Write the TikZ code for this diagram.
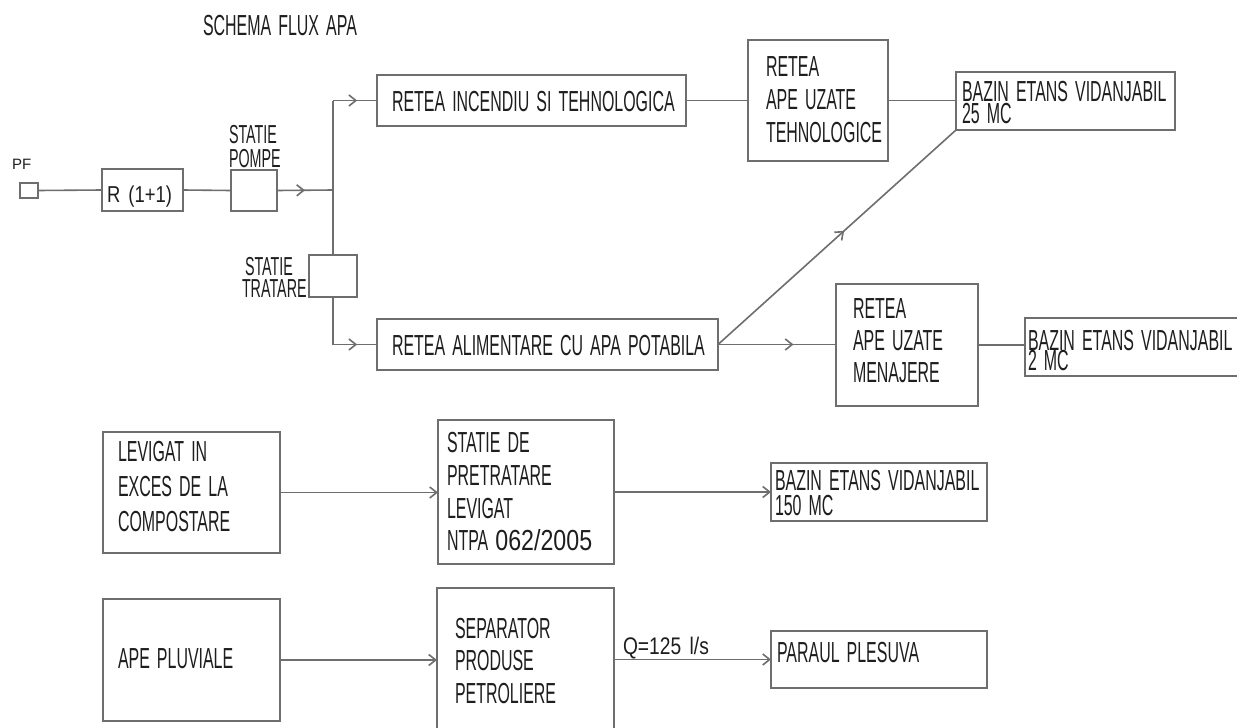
\documentclass[tikz,border=0pt]{standalone}
\usepackage{fontspec}
\usetikzlibrary{arrows.meta,decorations.markings}
\newfontfamily\cad[FakeStretch=0.55,WordSpace=1.6]{Liberation Sans}
\newfontfamily\cadw[FakeStretch=0.8,WordSpace=1.6]{Liberation Sans}
\newfontfamily\plainf{Liberation Sans}
\definecolor{lnc}{HTML}{6E6E6E}
\definecolor{txc}{HTML}{1E1E1E}
\tikzset{
  blk/.style={draw=lnc,line width=1.6pt,rectangle,inner sep=0pt,outer sep=0pt},
  ln/.style={draw=lnc,line width=1.6pt},
  txt/.style={anchor=base west,inner sep=0pt,outer sep=0pt,text=txc,font=\cad\fontsize{29}{29}\selectfont},
  stxt/.style={txt,font=\cad\fontsize{26}{26}\selectfont},
  endarr/.style={-{Straight Barb[length=7pt,width=11pt,line width=1.6pt]}},
  midarr/.style={postaction={decorate},decoration={markings,mark=at position #1 with {\arrow{Straight Barb[length=7pt,width=11pt,line width=1.6pt]}}}}
}
\begin{document}
\begin{tikzpicture}[x=1pt,y=-1pt]
\fill[white] (0,0) rectangle (1237,728);
\useasboundingbox (0,0) rectangle (1237,728);
% title
\node[txt] (title) at (203,35) {SCHEMA FLUX APA};
% boxes
\node[blk,minimum width=18pt,minimum height=15pt] (pf) at (29,190.5) {};
\node[blk,minimum width=81pt,minimum height=42pt] (r) at (142.5,190) {};
\node[blk,minimum width=46pt,minimum height=41pt] (pompe) at (254,190.5) {};
\node[blk,minimum width=48pt,minimum height=42pt] (tratare) at (333,276) {};
\node[blk,minimum width=309pt,minimum height=51pt] (incendiu) at (531.5,100.5) {};
\node[blk,minimum width=140pt,minimum height=121pt] (tehno) at (818,100.5) {};
\node[blk,minimum width=219pt,minimum height=58pt] (bazin25) at (1065.5,101) {};
\node[blk,minimum width=341pt,minimum height=51pt] (alimentare) at (547.5,344.5) {};
\node[blk,minimum width=142pt,minimum height=122pt] (menajere) at (907,345) {};
\node[blk,minimum width=220pt,minimum height=58pt] (bazin2) at (1135,347) {};
\node[blk,minimum width=177pt,minimum height=121pt] (levigat) at (191.5,492.5) {};
\node[blk,minimum width=176pt,minimum height=144pt] (pretratare) at (526,492) {};
\node[blk,minimum width=216pt,minimum height=58pt] (bazin150) at (879,492) {};
\node[blk,minimum width=177pt,minimum height=122pt] (pluviale) at (191.5,660) {};
\node[blk,minimum width=177pt,minimum height=157pt] (separator) at (525.5,666.5) {};
\node[blk,minimum width=216pt,minimum height=57pt] (paraul) at (879,659.5) {};
% junction coordinates
\coordinate (jt) at (333,100.5);
\coordinate (j) at (333,190);
\coordinate (jb) at (333,344.5);
% connectors
\draw[ln] (pf.east) -- (r.west);
\draw[ln] (r.east) -- (pompe.west);
\draw[ln,midarr=0.5] (pompe.east) -- (j);
\draw[ln] (jt) -- (tratare.north);
\draw[ln] (tratare.south) -- (jb);
\draw[ln,midarr=0.55] (jt) -- (incendiu.west);
\draw[ln,midarr=0.55] (jb) -- (alimentare.west);
\draw[ln] (incendiu.east) -- (tehno.west);
\draw[ln] (tehno.east) -- (tehno.east -| bazin25.west);
\draw[ln,midarr=0.53] (alimentare.east) -- (bazin25.south west);
\draw[ln,midarr=0.64] (alimentare.east) -- (alimentare.east -| menajere.west);
\draw[ln] (menajere.east) -- (menajere.east -| bazin2.west);
\draw[ln,endarr] (levigat.east) -- (levigat.east -| pretratare.west);
\draw[ln,endarr] (pretratare.east) -- (pretratare.east -| bazin150.west);
\draw[ln,endarr] (pluviale.east) -- (pluviale.east -| separator.west);
\draw[ln,endarr] (paraul.west -| separator.east) -- (paraul.west);
% texts
\node[anchor=base west,inner sep=0pt,text=txc,font=\plainf\fontsize{15}{15}\selectfont] (tpf) at (12,169) {PF};
\node[txt,font=\cadw\fontsize{23}{23}\selectfont] (tr) at (107,202) {R (1+1)};
\node[stxt] (tpo1) at (229,143) {STATIE};
\node[stxt] (tpo2) at (229,167) {POMPE};
\node[stxt] (ttr1) at (245,275) {STATIE};
\node[stxt] (ttr2) at (242,297) {TRATARE};
\node[txt] (tinc) at (392,111) {RETEA INCENDIU SI TEHNOLOGICA};
\node[txt] (tali) at (392,355) {RETEA ALIMENTARE CU APA POTABILA};
\node[txt] (tte1) at (766,76) {RETEA};
\node[txt] (tte2) at (766,109) {APE UZATE};
\node[txt] (tte3) at (766,142) {TEHNOLOGICE};
\node[txt] (tb251) at (962,101) {BAZIN ETANS VIDANJABIL};
\node[txt] (tb252) at (962,123) {25 MC};
\node[txt] (tme1) at (853,318) {RETEA};
\node[txt] (tme2) at (853,350) {APE UZATE};
\node[txt] (tme3) at (853,382) {MENAJERE};
\node[txt] (tb21) at (1028,350) {BAZIN ETANS VIDANJABIL};
\node[txt] (tb22) at (1028,370) {2 MC};
\node[txt] (tle1) at (118,461) {LEVIGAT IN};
\node[txt] (tle2) at (118,496) {EXCES DE LA};
\node[txt] (tle3) at (118,531) {COMPOSTARE};
\node[txt] (tpr1) at (447,452) {STATIE DE};
\node[txt] (tpr2) at (447,485) {PRETRATARE};
\node[txt] (tpr3) at (447,518) {LEVIGAT};
\node[txt] (tpr4) at (447,550) {NTPA {\cadw 062/2005}};
\node[txt] (tb1501) at (775,490) {BAZIN ETANS VIDANJABIL};
\node[txt] (tb1502) at (775,515) {150 MC};
\node[txt] (tplu) at (118,668) {APE PLUVIALE};
\node[txt] (tse1) at (455,638) {SEPARATOR};
\node[txt] (tse2) at (455,670) {PRODUSE};
\node[txt] (tse3) at (455,703) {PETROLIERE};
\node[txt] (tpar) at (777,662) {PARAUL PLESUVA};
\node[txt,font=\cadw\fontsize{24}{24}\selectfont] (tq) at (623,654) {Q=125 l/s};
\end{tikzpicture}
\end{document}
